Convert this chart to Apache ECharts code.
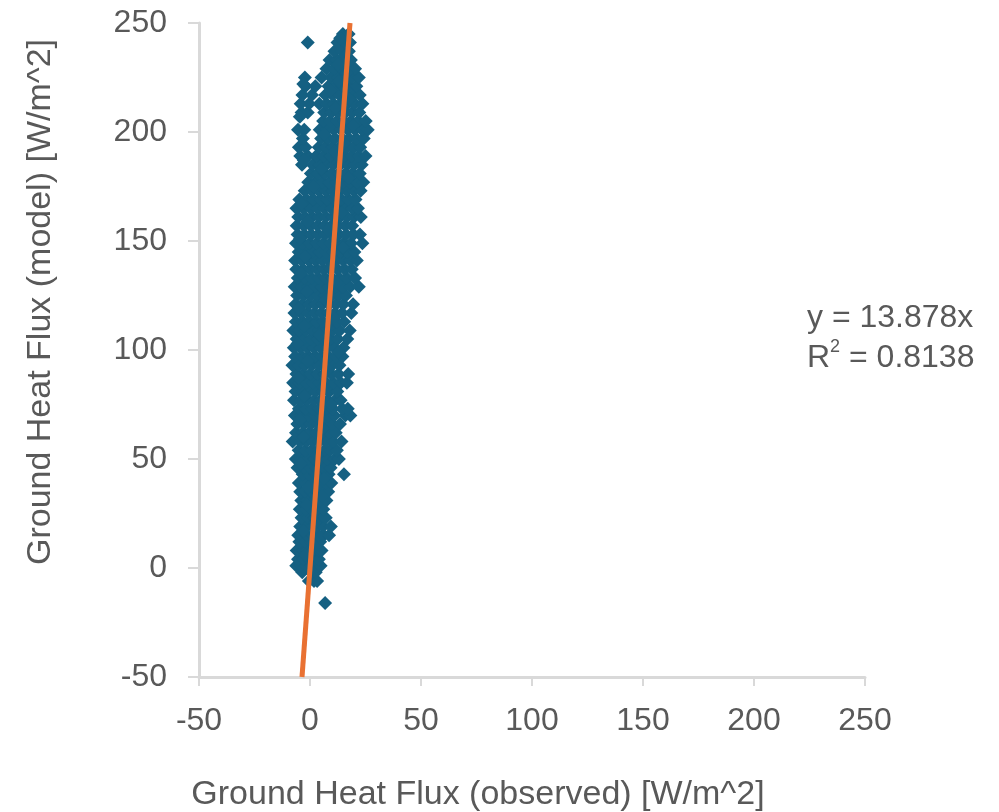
<!DOCTYPE html>
<html>
<head>
<meta charset="utf-8">
<script src="https://cdn.jsdelivr.net/npm/echarts@6/dist/echarts.min.js"></script>
<style>
html,body{margin:0;padding:0;background:#fff;}
#chart{width:999px;height:812px;}
</style>
</head>
<body>
<div id="chart"></div>
<script>
// ---- data ----
var xTicks = [-50, 0, 50, 100, 150, 200, 250];
var yTicks = [-50, 0, 50, 100, 150, 200, 250];
var xTitle = 'Ground Heat Flux (observed) [W/m^2]';
var yTitle = 'Ground Heat Flux (model) [W/m^2]';
var trendSlope = 13.878;
var trendR2 = '0.8138';

// observed (x), model (y) pairs
var points = [
  [6.8,-16],
  [-0.5,-6],[1.8,-6],[3.2,-6],
  [-3.5,-2],[0.5,-2],[2.6,-2],
  [-6.2,1],[-4.1,1],[-1.8,1],[0.8,1],[3.5,1],[4.8,1],
  [-5.4,4],[-2.9,4],[-0.4,4],[2.1,4],[4.0,4],
  [-6.0,8],[-3.3,8],[-1.2,8],[1.5,8],[3.9,8],[5.2,8],
  [-4.8,12],[-2.2,12],[0.3,12],[2.8,12],[4.6,12],
  [-5.3,15],[-1.6,15],[1.1,15],[3.7,15],[6.2,15],[8.6,15],
  [-4.4,19],[-2.0,19],[0.9,19],[3.2,19],[5.8,19],[9.4,19],
  [-3.8,23],[-0.9,23],[2.0,23],[4.4,23],[7.1,23],
  [-4.6,27],[-1.9,27],[0.6,27],[3.4,27],[6.0,27],
  [-3.9,31],[-1.2,31],[1.8,31],[4.6,31],[7.4,31],
  [-4.4,35],[-2.3,35],[0.4,35],[3.1,35],[5.9,35],[8.2,35],
  [-5.0,39],[-2.0,39],[1.2,39],[4.3,39],[7.0,39],[9.6,39],
  [-3.3,43],[-0.6,43],[2.5,43],[5.2,43],[8.4,43],[15.3,43],
  [-5.6,46],[-2.7,46],[0.1,46],[3.0,46],[6.1,46],[9.3,46],
  [-6.4,50],[-3.8,50],[-1.0,50],[1.9,50],[4.8,50],[7.7,50],[11.2,50],[13.0,50],
  [-5.1,54],[-2.2,54],[0.8,54],[3.6,54],[6.5,54],[9.1,54],[12.1,54],
  [-7.8,58],[-4.4,58],[-1.5,58],[1.4,58],[4.1,58],[7.2,58],[10.4,58],[14.2,58],
  [-6.3,62],[-3.2,62],[-0.3,62],[2.7,62],[5.5,62],[8.6,62],[11.6,62],
  [-5.7,66],[-2.6,66],[0.4,66],[3.5,66],[6.6,66],[9.9,66],[13.5,66],
  [-6.8,70],[-3.9,70],[-0.8,70],[2.2,70],[5.3,70],[8.1,70],[11.0,70],[15.9,70],[18.2,70],
  [-5.0,73],[-2.0,73],[1.0,73],[4.0,73],[7.0,73],[10.2,73],[14.5,73],[17.0,73],
  [-7.2,77],[-4.1,77],[-1.2,77],[1.9,77],[4.8,77],[7.9,77],[11.3,77],[13.8,77],
  [-6.5,81],[-3.4,81],[-0.5,81],[2.6,81],[5.6,81],[8.8,81],[12.3,81],
  [-7.6,85],[-4.7,85],[-1.8,85],[1.2,85],[4.2,85],[7.3,85],[10.5,85],[13.9,85],[16.6,85],
  [-6.1,89],[-3.0,89],[0.1,89],[3.2,89],[6.4,89],[9.6,89],[12.8,89],[17.2,89],
  [-7.9,93],[-5.0,93],[-2.2,93],[0.9,93],[4.0,93],[7.1,93],[10.0,93],[13.3,93],
  [-6.7,97],[-3.6,97],[-0.7,97],[2.4,97],[5.3,97],[8.5,97],[11.7,97],[14.6,97],
  [-7.3,101],[-4.4,101],[-1.3,101],[1.6,101],[4.7,101],[7.8,101],[10.9,101],[15.1,101],
  [-6.0,105],[-2.9,105],[0.2,105],[3.3,105],[6.2,105],[9.4,105],[12.5,105],[16.8,105],
  [-7.5,109],[-4.8,109],[-1.9,109],[1.1,109],[4.1,109],[7.0,109],[10.2,109],[13.4,109],[17.9,109],
  [-6.4,113],[-3.3,113],[-0.2,113],[2.9,113],[5.9,113],[8.9,113],[12.0,113],[15.4,113],
  [-7.0,117],[-4.0,117],[-1.0,117],[2.0,117],[5.1,117],[8.2,117],[11.3,117],[14.5,117],[18.6,117],
  [-6.6,121],[-3.5,121],[-0.5,121],[2.5,121],[5.6,121],[8.7,121],[11.8,121],[15.0,121],[19.4,121],
  [-5.8,125],[-2.7,125],[0.5,125],[3.6,125],[6.6,125],[9.8,125],[13.0,125],[16.2,125],
  [-6.9,129],[-3.8,129],[-0.9,129],[2.2,129],[5.2,129],[8.3,129],[11.5,129],[14.7,129],[18.1,129],[22.0,129],
  [-5.5,133],[-2.4,133],[0.7,133],[3.8,133],[6.9,133],[10.0,133],[13.2,133],[16.5,133],[20.3,133],
  [-6.2,137],[-3.1,137],[0.0,137],[3.1,137],[6.1,137],[9.2,137],[12.4,137],[15.6,137],[18.8,137],
  [-6.7,141],[-3.7,141],[-0.6,141],[2.4,141],[5.5,141],[8.6,141],[11.8,141],[14.9,141],[18.2,141],[21.1,141],
  [-5.1,145],[-2.0,145],[1.0,145],[4.1,145],[7.2,145],[10.4,145],[13.6,145],[16.8,145],[20.0,145],
  [-6.3,149],[-3.3,149],[-0.2,149],[2.9,149],[6.0,149],[9.1,149],[12.2,149],[15.3,149],[18.5,149],[23.6,149],
  [-5.6,153],[-2.5,153],[0.6,153],[3.7,153],[6.8,153],[9.9,153],[13.1,153],[16.3,153],[19.6,153],[22.5,153],
  [-6.0,157],[-2.8,157],[0.3,157],[3.4,157],[6.5,157],[9.6,157],[12.7,157],[15.9,157],[19.0,157],
  [-5.3,161],[-2.2,161],[0.9,161],[4.0,161],[7.1,161],[10.3,161],[13.5,161],[16.6,161],[19.8,161],[22.9,161],
  [-6.1,165],[-3.0,165],[0.2,165],[3.2,165],[6.3,165],[9.5,165],[12.6,165],[15.8,165],[18.9,165],[21.6,165],
  [-4.8,169],[-1.6,169],[1.5,169],[4.7,169],[7.8,169],[11.0,169],[14.1,169],[17.3,169],[20.5,169],
  [-2.4,173],[0.8,173],[3.9,173],[7.0,173],[10.1,173],[13.3,173],[16.4,173],[19.6,173],[22.8,173],
  [-0.8,177],[2.3,177],[5.4,177],[8.6,177],[11.7,177],[14.9,177],[18.0,177],[21.2,177],[24.0,177],
  [0.4,181],[3.5,181],[6.6,181],[9.8,181],[12.9,181],[16.1,181],[19.2,181],[22.4,181],
  [-3.6,185],[1.2,185],[4.3,185],[7.4,185],[10.6,185],[13.7,185],[16.9,185],[20.0,185],[23.3,185],
  [-4.4,189],[-1.0,189],[2.8,189],[6.0,189],[9.1,189],[12.3,189],[15.4,189],[18.6,189],[21.8,189],[25.0,189],
  [-5.0,193],[-2.0,193],[3.9,193],[7.0,193],[10.2,193],[13.4,193],[16.5,193],[19.7,193],[22.6,193],
  [-3.2,197],[5.0,197],[8.2,197],[11.3,197],[14.5,197],[17.6,197],[20.8,197],[24.2,197],
  [-5.4,201],[-2.6,201],[4.4,201],[7.6,201],[10.7,201],[13.9,201],[17.0,201],[20.2,201],[23.4,201],[26.0,201],
  [5.9,205],[9.0,205],[12.2,205],[15.3,205],[18.5,205],[21.7,205],[25.1,205],
  [-3.8,209],[-1.0,209],[6.4,209],[9.6,209],[12.7,209],[15.9,209],[19.0,209],[22.2,209],
  [-4.2,213],[-0.4,213],[4.2,213],[7.5,213],[10.6,213],[13.8,213],[16.9,213],[20.1,213],[23.6,213],
  [-3.4,217],[0.9,217],[6.9,217],[10.1,217],[13.2,217],[16.4,217],[19.5,217],[22.4,217],
  [-2.0,221],[2.4,221],[8.3,221],[11.4,221],[14.6,221],[17.7,221],[20.9,221],
  [-2.3,225],[5.2,225],[9.5,225],[12.7,225],[15.8,225],[19.0,225],[22.0,225],
  [7.4,229],[10.9,229],[14.0,229],[17.2,229],[20.3,229],
  [8.8,233],[12.1,233],[15.2,233],[18.4,233],
  [11.0,237],[14.3,237],[17.5,237],
  [-1.0,241],[12.4,241],[15.6,241],[18.0,241],
  [14.8,245],[17.4,245],
  // additional in-between readings
  [-2.1,6],[1.9,10],[-3.0,17],[2.3,21],[-1.5,29],[5.4,33],[-0.8,37],[6.3,41],
  [-4.1,48],[3.3,52],[-2.9,60],[6.0,64],[-4.6,68],[9.4,75],[-2.5,79],[6.1,83],
  [-5.2,87],[8.0,91],[-1.0,95],[12.9,99],[-5.6,103],[4.3,107],[-2.6,111],[10.7,115],
  [-4.9,119],[7.0,123],[-1.4,127],[12.2,131],[-4.0,135],[9.9,139],[-2.2,143],[15.0,147],
  [-4.5,151],[8.1,155],[-1.1,159],[14.2,163],[-3.9,167],[11.5,171],[1.6,175],[17.4,179],
  [5.1,183],[-2.8,187],[11.0,191],[15.6,195],[6.4,199],[19.3,203],[-4.6,207],[11.4,211],
  [17.8,215],[9.2,219],[13.0,223],[16.5,227],[-3.0,222],[12.5,231],[16.0,235],[13.6,243]
];

// ---- chart ----
var axisMin = xTicks[0], axisMax = xTicks[xTicks.length - 1];
var yMin = yTicks[0], yMax = yTicks[yTicks.length - 1];
var trendData = [[yMin / trendSlope, yMin], [yMax / trendSlope, yMax]];

var FONT = '"Liberation Sans", Arial, sans-serif';
var TXT = '#595959';
var AX = '#d9d9d9';

var chart = echarts.init(document.getElementById('chart'), null, {renderer: 'canvas'});
chart.setOption({
  animation: false,
  backgroundColor: '#ffffff',
  grid: {left: 199, right: 134, top: 23, bottom: 135, containLabel: false},
  xAxis: {
    type: 'value', min: axisMin, max: axisMax, interval: 50,
    axisLine: {show: true, onZero: false, lineStyle: {color: AX, width: 3}},
    axisTick: {show: true, length: 9, lineStyle: {color: AX, width: 2}},
    splitLine: {show: false},
    axisLabel: {color: TXT, fontFamily: FONT, fontSize: 32, margin: 28}
  },
  yAxis: {
    type: 'value', min: yMin, max: yMax, interval: 50,
    axisLine: {show: true, onZero: false, lineStyle: {color: AX, width: 3}},
    axisTick: {show: true, length: 11, lineStyle: {color: AX, width: 2}},
    splitLine: {show: false},
    axisLabel: {color: TXT, fontFamily: FONT, fontSize: 32, margin: 32}
  },
  graphic: [
    {type: 'text', x: 478, y: 795, style: {text: xTitle, fill: TXT, font: '34px ' + FONT, textAlign: 'center', textVerticalAlign: 'middle'}},
    {type: 'text', x: 41, y: 302, rotation: Math.PI / 2, style: {text: yTitle, fill: TXT, font: '34px ' + FONT, textAlign: 'center', textVerticalAlign: 'middle'}},
    {type: 'text', left: 807, top: 298, style: {
      text: 'y = ' + trendSlope + 'x\nR{sup|2} = ' + trendR2,
      fill: TXT, font: '32px ' + FONT, lineHeight: 40,
      rich: {sup: {fontSize: 18, verticalAlign: 'top', fill: TXT, fontFamily: FONT, padding: [0, 0, 12, 0]}}
    }}
  ],
  series: [
    {
      type: 'scatter', data: points, symbol: 'diamond', symbolSize: 14,
      itemStyle: {color: '#156082', opacity: 1}, z: 2
    },
    {
      type: 'line', data: trendData, symbol: 'none',
      lineStyle: {color: '#E97132', width: 5}, z: 3
    }
  ]
});
</script>
</body>
</html>
